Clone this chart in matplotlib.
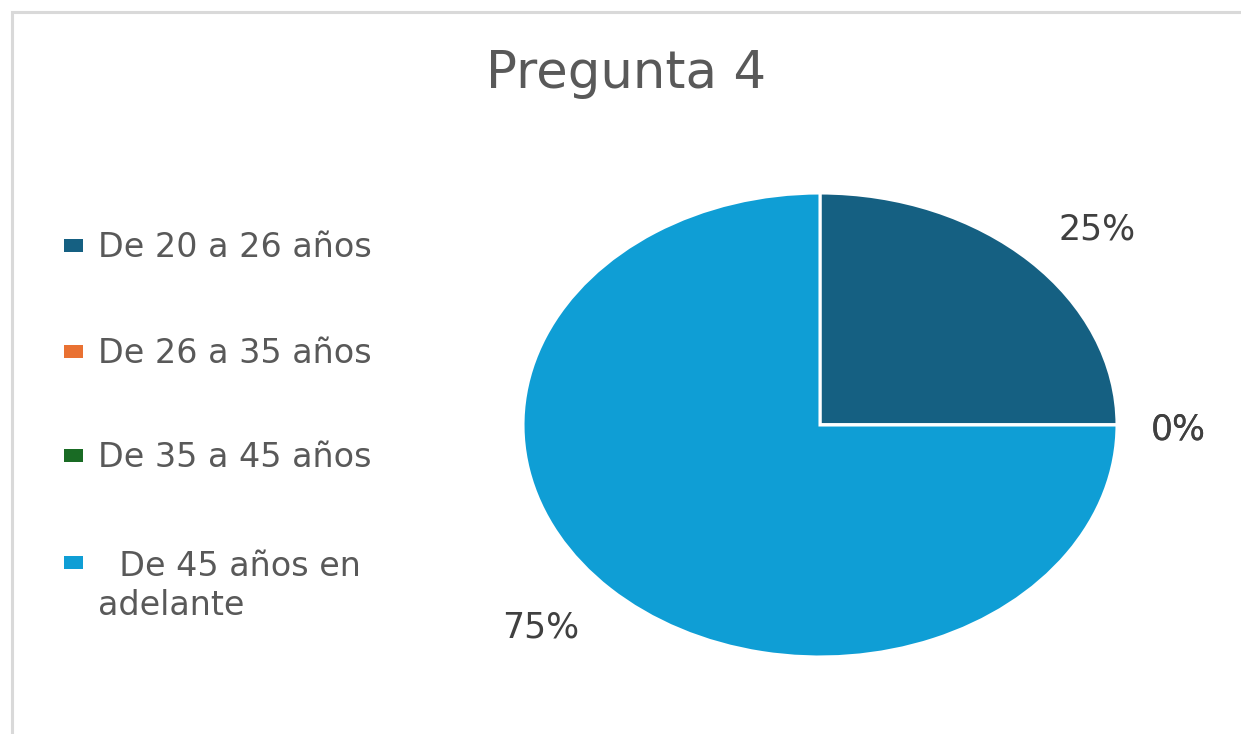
import matplotlib.pyplot as plt
from matplotlib.patches import Rectangle

# Data
categorias = ['De 20 a 26 años', 'De 26 a 35 años', 'De 35 a 45 años', '  De 45 años en\nadelante']
valores = [25, 0, 0, 75]
colores = ['#156082', '#E97132', '#196B24', '#0F9ED5']
titulo = 'Pregunta 4'

W, H = 1241, 734
fig = plt.figure(figsize=(W / 100, H / 100), dpi=100)
fig.patch.set_facecolor('white')

# chart border (cut off at right and bottom in the original)
fig.patches.append(Rectangle((11.5 / W, -0.1), 1.2, 1.1 - 11.5 / H, transform=fig.transFigure,
                             facecolor='none', edgecolor='#d9d9d9', linewidth=2.2))

# pie, stretched horizontally
cx, cy, rx, ry = 820, 425, 297, 232
ax = fig.add_axes([(cx - rx) / W, 1 - (cy + ry) / H, 2 * rx / W, 2 * ry / H])
wedges, texts, autotexts = ax.pie(valores, colors=colores, startangle=90, counterclock=False,
                                  autopct='%1.0f%%', pctdistance=1.24,
                                  wedgeprops=dict(edgecolor='white', linewidth=2.2),
                                  textprops=dict(fontsize=25, color='#404040'))
ax.set_aspect('auto')
ax.set_xlim(-1, 1)
ax.set_ylim(-1, 1)

# nudge labels to excel's "best fit" spots (pixel offsets)
ajustes = [(17, -8), (-10, -4), (-10, -4), (-19, 1)]
for t, (dx, dy) in zip(autotexts, ajustes):
    x, y = t.get_position()
    t.set_position((x + dx / rx, y + dy / ry))

fig.text(626 / W, 1 - 88 / H, titulo, ha='center', va='baseline', fontsize=37, color='#595959')

# legend
y_lin = [246, 352, 456, 563]
for cat, col, yl in zip(categorias, colores, y_lin):
    fig.patches.append(Rectangle((64 / W, 1 - (yl + 6) / H), 19 / W, 13 / H, transform=fig.transFigure,
                                 facecolor=col, edgecolor='none'))
    n = cat.count('\n')
    fig.text(98 / W, 1 - (yl + 11 + 41 * n) / H, cat, ha='left', va='baseline', fontsize=24,
             color='#595959', linespacing=1.25)

plt.savefig('out.png', dpi=100)
